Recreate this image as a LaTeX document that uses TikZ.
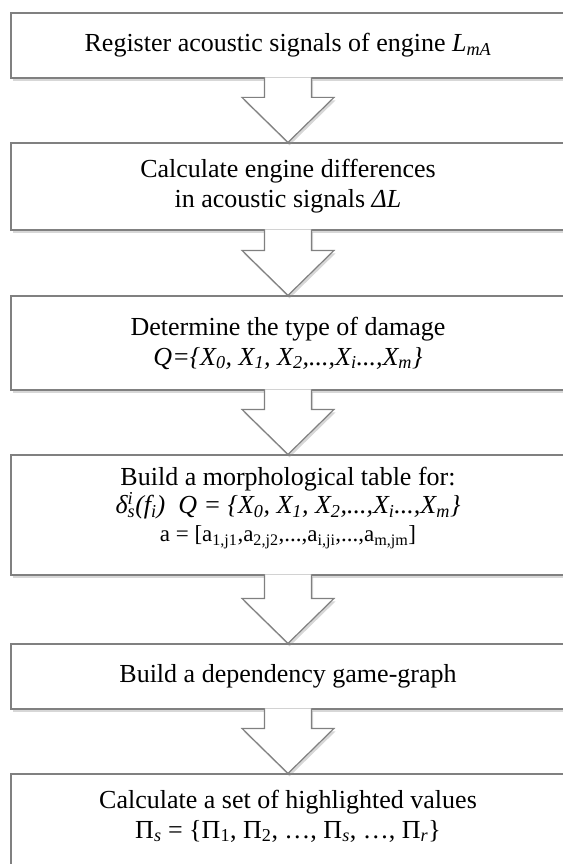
\documentclass[tikz,border=0pt]{standalone}
\usepackage{fontspec}
\setmainfont{Liberation Serif}
\usetikzlibrary{shadows}
\newcommand{\sub}[1]{\textsubscript{#1}}

\begin{document}
\begin{tikzpicture}[x=1pt, y=-1pt,
        every node/.style={font=\fontsize{26}{30}\selectfont, align=center},
        stepbox/.style={draw=gray, line width=1.2pt, fill=white, minimum width=554pt, inner sep=0pt,
            drop shadow={shadow xshift=1.5pt, shadow yshift=-3pt, fill=black!45, opacity=0.35}},
        blockarrow/.style={draw=gray, line width=1.2pt, fill=white, line join=miter,
            drop shadow={shadow xshift=1.5pt, shadow yshift=-3pt, fill=black!45, opacity=0.35}}]
    \useasboundingbox (0,0) rectangle (562,864);
    % steps
    \node[stepbox, minimum height=65pt] (reg) at (288,45.5) {Register acoustic signals of engine \textit{L\sub{mA}}};
    \node[stepbox, minimum height=87pt] (diff) at (288,186.5) {Calculate engine differences\\in acoustic signals \textit{ΔL}};
    \node[stepbox, minimum height=94pt] (dmg) at (288,343)
        {Determine the type of damage\\\textit{Q=\{X\sub{0}, X\sub{1}, X\sub{2},...,X\sub{i}...,X\sub{m}\}}};
    \node[stepbox, minimum height=120pt] (morph) at (288,515) {};
    \node[font=\fontsize{26}{28}\selectfont] (morphtext) at (288,508)
        {Build a morphological table for:\\
         \textit{δ\rlap{\textsuperscript{i}}\sub{s}(f\sub{i})}\ \ \textit{Q = \{X\sub{0}, X\sub{1}, X\sub{2},...,X\sub{i}...,X\sub{m}\}}\\
         {\fontsize{23}{28}\selectfont a = [a\sub{1,j1},a\sub{2,j2},...,a\sub{i,ji},...,a\sub{m,jm}]}};
    \node[stepbox, minimum height=65pt] (graph) at (288,676.5) {Build a dependency game-graph};
    \node[stepbox, minimum height=110pt] (vals) at (288,829) {};
    \node (valtext) at (288,816) {Calculate a set of highlighted values\\
        Π\sub{\textit{s}} = \{Π\sub{1}, Π\sub{2}, …, Π\sub{\textit{s}}, …, Π\sub{\textit{r}}\}};
    % arrows between steps
    \foreach \a/\b in {reg/diff, diff/dmg, dmg/morph, morph/graph, graph/vals}
        \draw[blockarrow] ([xshift=-23.5pt,yshift=1.2pt]\a.south) -- ([xshift=-23.5pt,yshift=45pt]\b.north)
            -- ([xshift=-46pt,yshift=45pt]\b.north) -- (\b.north) -- ([xshift=46pt,yshift=45pt]\b.north)
            -- ([xshift=23.5pt,yshift=45pt]\b.north) -- ([xshift=23.5pt,yshift=1.2pt]\a.south);
\end{tikzpicture}
\end{document}
